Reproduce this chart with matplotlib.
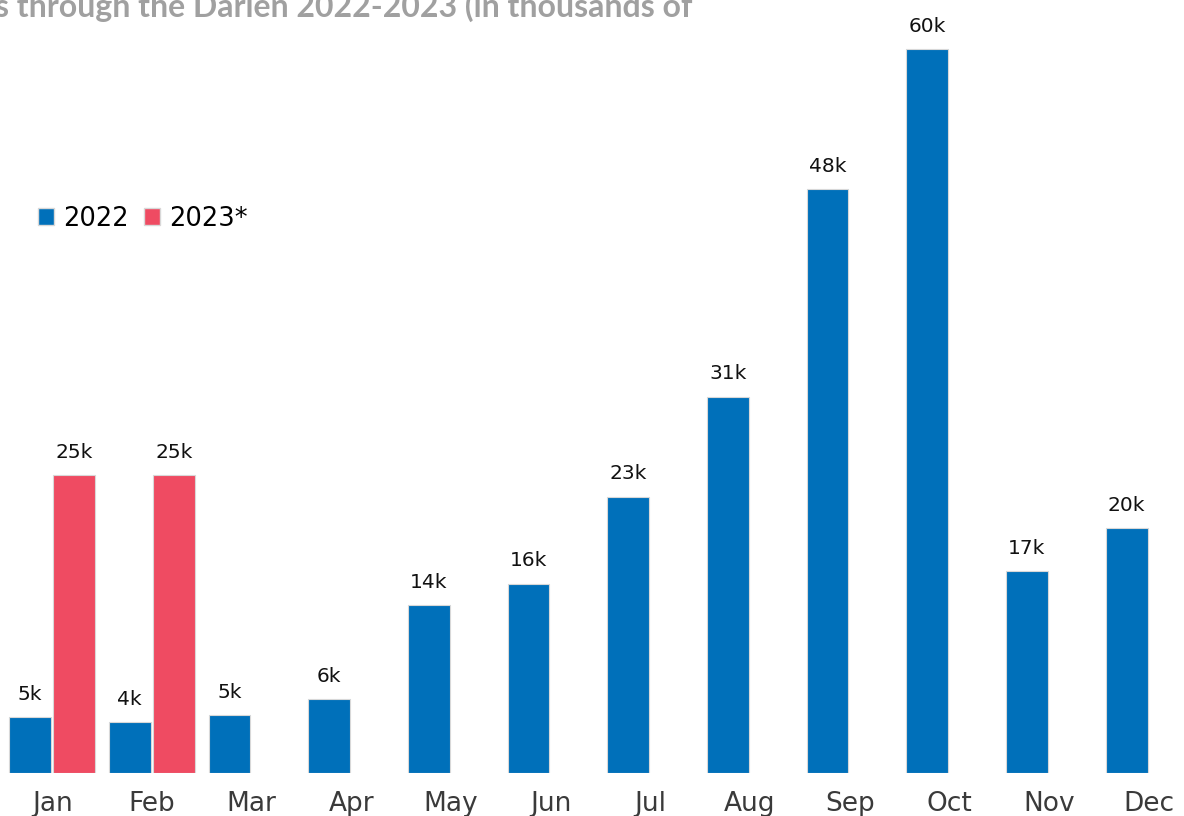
import matplotlib
matplotlib.use("Agg")
import matplotlib.pyplot as plt
import numpy as np
from matplotlib.patches import Patch

months = ["Jan", "Feb", "Mar", "Apr", "May", "Jun", "Jul", "Aug", "Sep", "Oct", "Nov", "Dec"]
values_2022 = [4.6, 4.2, 4.8, 6.1, 13.9, 15.7, 22.9, 31.2, 48.4, 60.0, 16.7, 20.3]
months_2023 = ["Jan", "Feb"]
values_2023 = [24.7, 24.7]
series_names = ["2022", "2023*"]
title_text = "s through the Darien 2022-2023 (in thousands of"

blue = "#0070ba"
red = "#ef4b62"

fig = plt.figure(figsize=(11.84, 8.16), dpi=100)
ax = fig.add_axes([0, 43 / 816, 1, 773 / 816])

x = np.arange(len(months))
w = 0.42
off_b = -0.222
off_r = 0.222

bars_b = ax.bar(x + off_b, values_2022, width=w, color=blue, edgecolor="#d8d8d8", linewidth=0.8)
x23 = np.array([months.index(m) for m in months_2023])
bars_r = ax.bar(x23 + off_r, values_2023, width=w, color=red, edgecolor="#d8d8d8", linewidth=0.8)

for bars, vals in ((bars_b, values_2022), (bars_r, values_2023)):
    for b, v in zip(bars, vals):
        ax.annotate(f"{round(v)}k", (b.get_x() + b.get_width() / 2, v),
                    xytext=(0, 9.5), textcoords="offset points", ha="center", va="bottom",
                    fontsize=14.5, color="#111111", family="DejaVu Sans")

ax.set_xlim(-0.524, 11.354)
ax.set_ylim(0, 64.06)
ax.set_xticks(x)
ax.set_xticklabels(months, fontsize=19, color="#3a3a3a")
ax.tick_params(axis="x", length=0, pad=13)
ax.set_yticks([])
for s in ax.spines.values():
    s.set_visible(False)

handles = [Patch(facecolor=blue, edgecolor="#d8d8d8"), Patch(facecolor=red, edgecolor="#d8d8d8")]
ax.legend(handles, series_names, loc="upper left", bbox_to_anchor=(0.032, 0.734),
          frameon=False, fontsize=18.5, ncol=2, handlelength=0.62, handleheight=0.62,
          handletextpad=0.35, columnspacing=0.6, borderaxespad=0, borderpad=0)

fig.text(-0.004, 1.0 - 17 / 816, title_text, fontsize=23, fontweight="bold",
         color="#a0a0a0", ha="left", va="baseline", family="Lato")

fig.savefig("out.png", dpi=100)
